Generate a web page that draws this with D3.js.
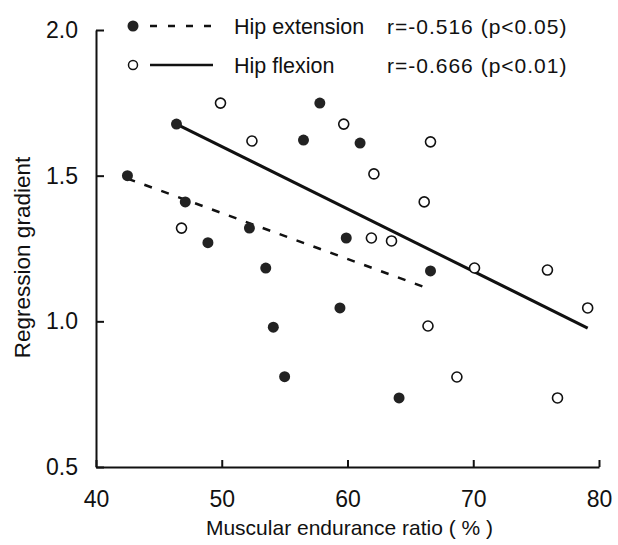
<!DOCTYPE html>
<html>
<head>
<meta charset="utf-8">
<script src="https://cdn.jsdelivr.net/npm/d3@7"></script>
<style>
  body { margin: 0; background: #fff; }
  svg { display: block; }
</style>
</head>
<body>
<svg id="chart"></svg>
<script>
// hip extension (filled dots)
const extX = [42.5, 46.4, 47.1, 48.9, 52.2, 53.5, 54.1, 55.0, 56.5, 57.8, 59.4, 59.9, 61.0, 64.1, 66.6];
const extY = [1.50, 1.677, 1.41, 1.27, 1.32, 1.183, 0.98, 0.81, 1.622, 1.749, 1.046, 1.286, 1.612, 0.737, 1.173];
// hip flexion (open dots)
const flexX = [46.8, 49.9, 52.4, 59.7, 62.1, 61.9, 63.5, 66.1, 66.6, 66.4, 68.7, 70.1, 75.9, 76.7, 79.1];
const flexY = [1.32, 1.749, 1.619, 1.677, 1.506, 1.286, 1.276, 1.41, 1.616, 0.984, 0.809, 1.183, 1.176, 0.737, 1.046];
// regression lines, end points
const extFit = [[42.5, 1.49], [66.6, 1.11]];
const flexFit = [[46.4, 1.677], [79.1, 0.977]];

const xTicks = [40, 50, 60, 70, 80];
const yTicks = [0.5, 1.0, 1.5, 2.0];
const legendNames = ["Hip extension", "Hip flexion"];
const legendStats = ["r=-0.516 (p<0.05)", "r=-0.666 (p<0.01)"];

const width = 618, height = 545;
const margin = {top: 30, right: 19, bottom: 78, left: 96};
const font = "Arial, 'Liberation Sans', Helvetica, sans-serif";

const svg = d3.select("#chart").attr("width", width).attr("height", height);

const x = d3.scaleLinear().domain([40, 80]).range([margin.left, width - margin.right]);
const y = d3.scaleLinear().domain([0.5, 2.0]).range([height - margin.bottom, margin.top]);

// axes, ticks pointing inward
const xAxis = svg.append("g")
    .attr("transform", `translate(0,${y(0.5)})`)
    .call(d3.axisBottom(x).tickValues(xTicks).tickFormat(d3.format("d"))
      .tickSize(-7).tickSizeOuter(0).tickPadding(24));
const yAxis = svg.append("g")
    .attr("transform", `translate(${x(40)},0)`)
    .call(d3.axisLeft(y).tickValues(yTicks).tickFormat(d3.format(".1f"))
      .tickSize(-8).tickSizeOuter(0).tickPadding(18));

[xAxis, yAxis].forEach(g => {
  g.select(".domain").attr("stroke", "#111").attr("stroke-width", 2);
  g.selectAll(".tick line").attr("stroke", "#111").attr("stroke-width", 2);
  g.selectAll("text").attr("font-family", font).attr("font-size", 23).attr("fill", "#111");
});

svg.append("text")
    .attr("x", (x(40) + x(80)) / 2 + 2)
    .attr("y", 535)
    .attr("text-anchor", "middle")
    .attr("font-family", font).attr("font-size", 21).attr("fill", "#111")
    .text("Muscular endurance ratio  ( % )");

svg.append("text")
    .attr("transform", `translate(30,${(y(0.5) + y(2.0)) / 2 + 9}) rotate(-90)`)
    .attr("text-anchor", "middle")
    .attr("font-family", font).attr("font-size", 22.5).attr("fill", "#111")
    .text("Regression gradient");

// fit lines
const line = d3.line().x(d => x(d[0])).y(d => y(d[1]));
svg.append("path").datum(extFit)
    .attr("d", line).attr("fill", "none").attr("stroke", "#111")
    .attr("stroke-width", 2.5).attr("stroke-dasharray", "8,10");
svg.append("path").datum(flexFit)
    .attr("d", line).attr("fill", "none").attr("stroke", "#111")
    .attr("stroke-width", 3);

// points
svg.append("g").selectAll("circle")
  .data(d3.zip(extX, extY))
  .join("circle")
    .attr("cx", d => x(d[0])).attr("cy", d => y(d[1]))
    .attr("r", 5.5).attr("fill", "#222");
svg.append("g").selectAll("circle")
  .data(d3.zip(flexX, flexY))
  .join("circle")
    .attr("cx", d => x(d[0])).attr("cy", d => y(d[1]))
    .attr("r", 5).attr("fill", "#fff").attr("stroke", "#111").attr("stroke-width", 1.6);

// legend
const legend = svg.append("g");
const rows = [26, 65];
legendNames.forEach((name, i) => {
  const ly = rows[i];
  const row = legend.append("g");
  if (i === 0) {
    row.append("circle").attr("cx", 133).attr("cy", ly).attr("r", 5.5).attr("fill", "#222");
    row.append("line").attr("x1", 150).attr("x2", 218).attr("y1", ly).attr("y2", ly)
        .attr("stroke", "#111").attr("stroke-width", 2.5).attr("stroke-dasharray", "7,11");
  } else {
    row.append("circle").attr("cx", 133).attr("cy", ly).attr("r", 4.5)
        .attr("fill", "#fff").attr("stroke", "#111").attr("stroke-width", 1.5);
    row.append("line").attr("x1", 150).attr("x2", 213).attr("y1", ly).attr("y2", ly)
        .attr("stroke", "#111").attr("stroke-width", 2.5);
  }
  row.append("text").attr("x", 234).attr("y", ly + 7.5)
      .attr("font-family", font).attr("font-size", 21.5).attr("fill", "#111")
      .text(name);
  row.append("text").attr("x", 387).attr("y", ly + 7.5)
      .attr("font-family", font).attr("font-size", 21).attr("letter-spacing", 1).attr("fill", "#111")
      .text(legendStats[i]);
});
</script>
</body>
</html>
